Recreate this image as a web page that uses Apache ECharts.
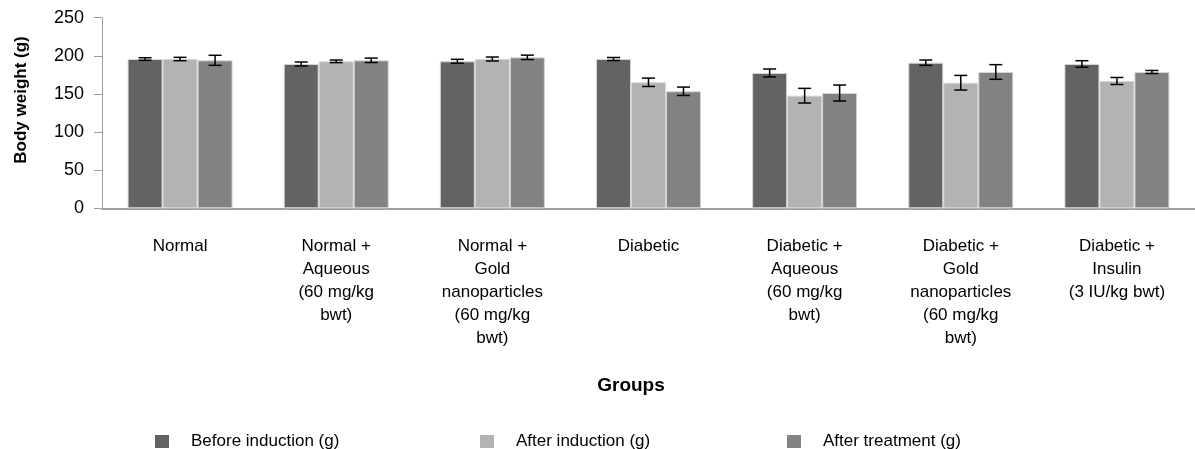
<!DOCTYPE html>
<html><head><meta charset="utf-8">
<script src="https://cdn.jsdelivr.net/npm/echarts@6/dist/echarts.min.js"></script>
<style>html,body{margin:0;padding:0;background:#fff}#c{width:1195px;height:449px}</style>
</head><body><div id="c"></div>
<script>
const categories = ['Normal','Normal +\nAqueous\n(60 mg/kg\nbwt)','Normal +\nGold\nnanoparticles\n(60 mg/kg\nbwt)','Diabetic','Diabetic +\nAqueous\n(60 mg/kg\nbwt)','Diabetic +\nGold\nnanoparticles\n(60 mg/kg\nbwt)','Diabetic +\nInsulin\n(3 IU/kg bwt)'];
const seriesNames = ['Before induction (g)','After induction (g)','After treatment (g)'];
const beforeInduction = [195.8, 189.3, 192.8, 195.8, 177.5, 191.0, 189.3];
const afterInduction  = [195.8, 192.8, 195.8, 165.3, 147.7, 164.7, 167.0];
const afterTreatment  = [194.1, 194.1, 198.0, 153.5, 151.2, 178.8, 178.8];
const beforeErr     = [1.7, 2.6, 2.6, 2.0, 5.2, 3.5, 4.3];
const afterIndErr   = [2.2, 1.7, 2.6, 5.5, 9.6, 9.6, 4.6];
const afterTreatErr = [6.6, 2.9, 2.9, 5.5, 10.5, 9.6, 2.0];
const yMin = 0, yMax = 250, yStep = 50;

const colors = ['#636363', '#b3b3b3', '#818281'];
const FONT = 'Liberation Sans, Arial, sans-serif';
const BAR_W = 35;
const values = [beforeInduction, afterInduction, afterTreatment];
const errs = [beforeErr, afterIndErr, afterTreatErr];

const chart = echarts.init(document.getElementById('c'));

const barSeries = seriesNames.map((n, k) => ({
  name: n, type: 'bar', barWidth: BAR_W, barGap: '0%',
  itemStyle: { color: colors[k], borderColor: '#d6d6d6', borderWidth: 1 },
  data: values[k], z: 2
}));

const errSeries = seriesNames.map((n, k) => ({
  type: 'custom', name: n + ' err', z: 5, silent: true,
  encode: { x: 0, y: 1 },
  data: values[k].map((v, i) => [i, v, errs[k][i]]),
  renderItem: function (params, api) {
    const i = api.value(0), v = api.value(1), e = api.value(2);
    const off = (k - 1) * BAR_W;
    const top = api.coord([i, v + e]);
    const bot = api.coord([i, v - e]);
    const x = top[0] + off;
    const cap = 6.5;
    const st = { stroke: '#000', lineWidth: 1.5 };
    return { type: 'group', children: [
      { type: 'line', shape: { x1: x, y1: top[1], x2: x, y2: bot[1] }, style: st },
      { type: 'line', shape: { x1: x - cap, y1: top[1], x2: x + cap, y2: top[1] }, style: st },
      { type: 'line', shape: { x1: x - cap, y1: bot[1], x2: x + cap, y2: bot[1] }, style: st }
    ]};
  }
}));

const legendLefts = [155, 480, 787];
const legends = seriesNames.map((n, k) => ({
  data: [n], left: legendLefts[k], top: 433, icon: 'rect', padding: 0,
  itemWidth: 14, itemHeight: 13, selectedMode: false,
  itemStyle: { borderWidth: 0 },
  textStyle: { fontFamily: FONT, fontSize: 17, color: '#000', padding: [0, 0, 0, 17] }
}));

chart.setOption({
  animation: false,
  color: colors,
  grid: { left: 102, right: -10, top: 17.7, bottom: 240.7 },
  legend: legends,
  xAxis: {
    type: 'category', data: categories,
    name: 'Groups', nameLocation: 'middle', nameGap: 168,
    nameTextStyle: { fontFamily: FONT, fontSize: 19, fontWeight: 'bold', color: '#000', padding: [0, 35, 0, 0] },
    axisLine: { lineStyle: { color: '#a0a0a0', width: 2 } },
    axisTick: { show: false },
    axisLabel: { interval: 0, margin: 27, fontFamily: FONT, fontSize: 17, lineHeight: 23, color: '#000' }
  },
  yAxis: {
    type: 'value', min: yMin, max: yMax, interval: yStep,
    name: 'Body weight (g)', nameLocation: 'middle', nameGap: 72, nameRotate: 90,
    nameTextStyle: { fontFamily: FONT, fontSize: 17, fontWeight: 'bold', color: '#000', padding: [0, 0, 0, 26] },
    axisLine: { show: true, lineStyle: { color: '#a0a0a0', width: 1 } },
    axisTick: { show: true, length: 8, lineStyle: { color: '#a0a0a0' } },
    splitLine: { show: false },
    axisLabel: { margin: 18, fontFamily: FONT, fontSize: 18, color: '#000' }
  },
  series: barSeries.concat(errSeries)
});
</script></body></html>
